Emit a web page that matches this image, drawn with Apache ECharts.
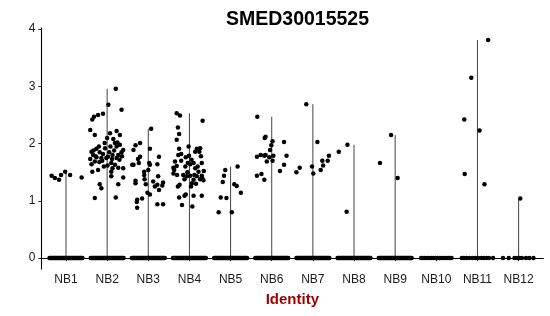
<!DOCTYPE html>
<html>
<head>
<meta charset="utf-8">
<script src="https://cdn.jsdelivr.net/npm/echarts@6/dist/echarts.min.js"></script>
<style>html,body{margin:0;padding:0;background:#fff}#c{width:550px;height:316px}</style>
</head>
<body>
<div id="c"></div>
<script>
// ---- data ----
const titleText = 'SMED30015525';
const xTitle = 'Identity';
const categories = ['NB1','NB2','NB3','NB4','NB5','NB6','NB7','NB8','NB9','NB10','NB11','NB12'];
const yTicks = [0, 1, 2, 3, 4];

// non-zero cells: [jitter offset, expression]
const nb1Points = [[-0.35,1.44],[-0.27,1.40],[-0.17,1.37],[-0.12,1.45],[-0.02,1.51],[0.10,1.45],[0.38,1.41]];
const nb2Points = [[0.21,2.96],[0.03,2.68],[0.35,2.59],[-0.10,2.52],[-0.22,2.50],[-0.32,2.47],[-0.36,2.42],[-0.41,2.24],
  [0.23,2.22],[0.31,2.15],[-0.30,2.15],[0.07,2.18],[0.00,2.10],[0.15,2.08],[0.19,2.01],[-0.06,2.01],[0.23,1.95],[0.31,1.98],
  [-0.26,1.91],[-0.38,1.86],[-0.18,1.85],[0.39,1.89],[0.35,1.85],[-0.34,1.80],[-0.10,1.82],[0.05,1.85],[0.13,1.80],[0.27,1.80],
  [-0.26,1.76],[-0.41,1.73],[-0.14,1.75],[-0.02,1.75],[0.02,1.77],[0.23,1.75],[-0.30,1.69],[-0.19,1.68],[-0.38,1.64],[0.10,1.66],
  [0.19,1.63],[0.13,1.57],[0.27,1.58],[0.39,1.57],[-0.22,1.54],[-0.36,1.51],[0.10,1.51],[0.10,1.43],[0.39,1.41],[-0.18,1.29],
  [-0.14,1.22],[0.27,1.29],[-0.30,1.05],[0.21,1.06],[-0.28,1.78],[-0.05,1.92],[0.08,1.95],[-0.12,1.70],[0.30,1.72],[0.17,1.88],
  [-0.20,1.95],[0.01,1.62],[-0.33,1.88],[0.36,1.78],[0.25,2.02],[-0.08,1.60],[0.12,1.73]];
const nb3Points = [[0.07,2.26],[-0.20,2.01],[-0.31,1.97],[-0.36,1.89],[0.04,1.91],[-0.20,1.77],[-0.25,1.73],[0.26,1.77],
  [-0.36,1.63],[-0.23,1.66],[0.02,1.66],[0.04,1.63],[0.22,1.64],[-0.10,1.51],[-0.10,1.45],[0.24,1.43],[-0.09,1.38],[-0.31,1.35],
  [-0.31,1.31],[-0.06,1.29],[0.12,1.34],[0.36,1.32],[0.22,1.28],[0.34,1.27],[0.16,1.25],[0.26,1.19],[-0.02,1.14],[0.04,1.11],
  [-0.15,1.04],[-0.27,1.02],[-0.28,0.98],[-0.27,0.88],[0.22,0.94],[0.36,0.94],[-0.39,1.63],[0.00,1.54]];
const nb4Points = [[-0.31,2.53],[-0.23,2.49],[0.32,2.40],[-0.28,2.28],[-0.25,2.17],[-0.31,2.07],[-0.25,1.91],[0.18,1.91],
  [0.26,1.92],[0.14,1.86],[-0.27,1.80],[-0.20,1.82],[-0.09,1.76],[-0.01,1.79],[-0.35,1.69],[-0.04,1.66],[0.02,1.64],[0.10,1.66],
  [0.30,1.66],[-0.39,1.58],[-0.10,1.60],[0.14,1.57],[0.22,1.51],[-0.15,1.45],[-0.06,1.43],[0.02,1.44],[0.18,1.43],[0.30,1.44],
  [0.10,1.37],[0.26,1.38],[0.06,1.31],[-0.28,1.25],[0.04,1.25],[-0.09,1.11],[0.10,1.09],[0.30,1.09],[-0.25,1.06],[-0.18,0.93],
  [0.07,0.90],[-0.39,1.48],[-0.37,1.54],[-0.31,1.61],[0.31,1.40],[-0.24,1.28],[-0.12,1.09],[0.24,1.86],[-0.02,1.95],
  [0.20,1.60],[-0.05,1.50],[0.12,1.45],[0.35,1.52],[-0.20,1.70],[0.05,1.72],[0.28,1.78],[-0.12,1.38],[0.16,1.30],[0.34,1.36],[-0.30,1.45]];
const nb5Points = [[0.17,1.60],[-0.13,1.54],[-0.16,1.44],[-0.19,1.33],[0.09,1.29],[0.15,1.26],[0.25,1.14],[-0.24,1.06],
  [-0.10,1.05],[-0.29,0.80],[0.03,0.80]];
const nb6Points = [[-0.35,2.47],[-0.15,2.12],[-0.17,2.10],[0.02,2.04],[0.30,2.03],[-0.01,1.97],[-0.04,1.89],[-0.15,1.80],
  [-0.36,1.77],[-0.27,1.80],[-0.18,1.79],[-0.06,1.76],[0.04,1.79],[0.36,1.79],[0.02,1.70],[-0.12,1.69],[0.30,1.63],[0.20,1.52],
  [-0.36,1.44],[-0.25,1.47],[-0.18,1.37]];
const nb7Points = [[-0.16,2.69],[0.11,2.03],[0.39,1.79],[-0.32,1.58],[-0.40,1.50],[-0.02,1.60],[0.01,1.48],[0.23,1.70],
  [0.36,1.70],[0.25,1.62],[0.19,1.54]];
const nb8Points = [[-0.37,1.86],[-0.16,1.98],[-0.18,0.81]];
const nb9Points = [[-0.10,2.15],[-0.37,1.66],[0.06,1.40]];
const nb10Points = [];
const nb11Points = [[0.26,3.81],[-0.15,3.15],[-0.32,2.42],[0.05,2.23],[-0.31,1.47],[0.17,1.29]];
const nb12Points = [[0.04,1.04]];

// zero-expression cells: jitter offsets
const zeroOffsetsDense = [-0.40,-0.38,-0.36,-0.34,-0.32,-0.30,-0.28,-0.26,-0.24,-0.22,-0.20,-0.18,-0.16,-0.14,-0.12,-0.10,
  -0.08,-0.06,-0.04,-0.02,0.00,0.02,0.04,0.06,0.08,0.10,0.12,0.14,0.16,0.18,0.20,0.22,0.24,0.26,0.28,0.30,0.32,0.34,0.36,0.38,0.40];
const nb10Zeros = [-0.37,-0.33,-0.28,-0.22,-0.17,-0.12,-0.07,-0.02,0.03,0.08,0.13,0.18,0.24,0.29,0.33,0.37];
const nb11Zeros = [-0.38,-0.33,-0.27,-0.20,-0.12,-0.05,0.02,0.10,0.15,0.22,0.28,0.38];
const nb12Zeros = [-0.38,-0.24,-0.10,-0.04,0.02,0.08,0.18,0.26,0.36];

const groupPoints = [nb1Points,nb2Points,nb3Points,nb4Points,nb5Points,nb6Points,nb7Points,nb8Points,nb9Points,nb10Points,nb11Points,nb12Points];
const groupZeros = [zeroOffsetsDense,zeroOffsetsDense,zeroOffsetsDense,zeroOffsetsDense,zeroOffsetsDense,zeroOffsetsDense,
  zeroOffsetsDense,zeroOffsetsDense,zeroOffsetsDense,nb10Zeros,nb11Zeros,nb12Zeros];

// ---- build ----
const positions = categories.map((c, i) => i + 1);
const scatterData = [];
const series = [];
groupPoints.forEach((pts, i) => {
  const x0 = positions[i];
  groupZeros[i].forEach(o => scatterData.push([x0 + o, 0]));
  pts.forEach(p => scatterData.push([x0 + p[0], p[1]]));
  const maxV = pts.length ? Math.max(...pts.map(p => p[1])) : 0;
  if (maxV > 0) {
    series.push({
      type: 'line', data: [[x0, 0], [x0, maxV]], symbol: 'none', silent: true, z: 1,
      lineStyle: { color: '#444', width: 1 }
    });
  }
});
series.push({
  type: 'scatter', data: scatterData, symbolSize: 4.5, z: 3,
  itemStyle: { color: '#000', opacity: 1 }
});

const chart = echarts.init(document.getElementById('c'), null, { renderer: 'canvas' });
chart.setOption({
  animation: false,
  backgroundColor: '#fff',
  title: {
    text: titleText, left: 292.5, top: 5, textAlign: 'center',
    textStyle: { fontFamily: 'Liberation Sans', fontWeight: 'bold', fontSize: 19.5, color: '#000' }
  },
  grid: { left: 41.3, right: 6.7, top: 28, bottom: 47, containLabel: false },
  xAxis: {
    type: 'value', min: 0.4, max: 12.6,
    name: xTitle, nameLocation: 'middle', nameGap: 23,
    nameTextStyle: { fontFamily: 'Liberation Sans', fontWeight: 'bold', fontSize: 15, color: '#9b0000' },
    axisLine: { show: true, lineStyle: { color: '#000', width: 1.1 } },
    axisTick: { show: true, length: 3, customValues: positions, lineStyle: { color: '#333' } },
    axisLabel: {
      customValues: positions, margin: 5,
      formatter: v => categories[Math.round(v) - 1] || '',
      fontFamily: 'Liberation Sans', fontSize: 12, color: '#1a1a1a'
    },
    splitLine: { show: false }
  },
  yAxis: {
    type: 'value', min: -0.19, max: 4.02,
    axisLine: { show: true, lineStyle: { color: '#000', width: 1.1 } },
    axisTick: { show: true, length: 3, customValues: yTicks, lineStyle: { color: '#333' } },
    axisLabel: {
      customValues: yTicks, margin: 6,
      fontFamily: 'Liberation Sans', fontSize: 12, color: '#1a1a1a'
    },
    splitLine: { show: false }
  },
  series: series
});
</script>
</body>
</html>
